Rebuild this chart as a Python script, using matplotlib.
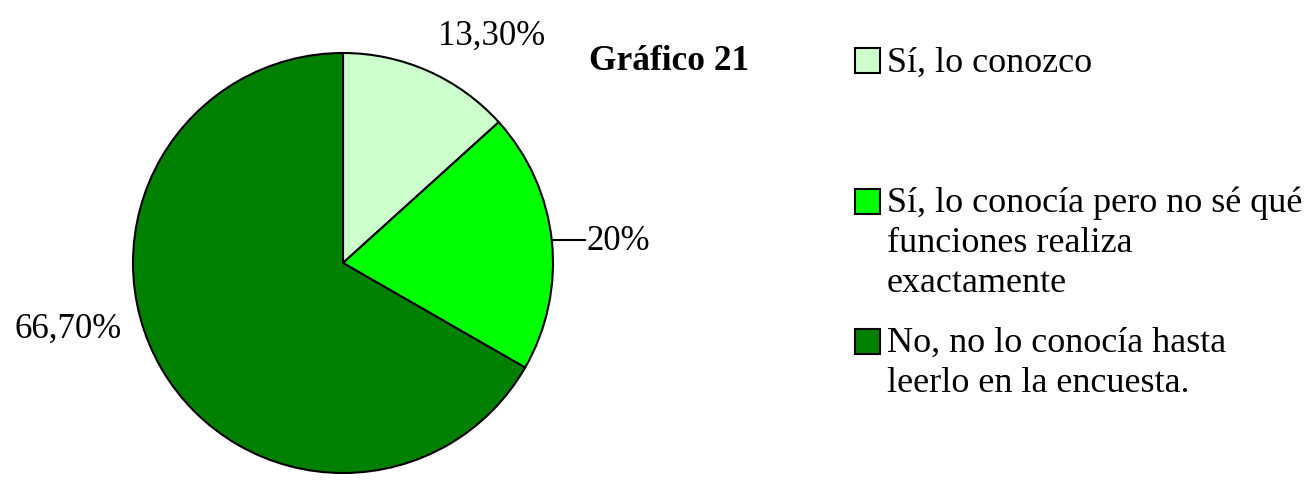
import matplotlib
matplotlib.use("Agg")
import matplotlib.pyplot as plt
from matplotlib.patches import Rectangle

W, H = 1314, 498
categories = ["Sí, lo conozco",
              "Sí, lo conocía pero no sé qué\nfunciones realiza\nexactamente",
              "No, no lo conocía hasta\nleerlo en la encuesta."]
values = [13.3, 20.0, 66.7]
value_labels = ["13,30%", "20%", "66,70%"]
colors = ["#CCFFCC", "#00FF00", "#008000"]
title = "Gráfico 21"

plt.rcParams['font.family'] = ['Liberation Serif', 'DejaVu Serif']

fig = plt.figure(figsize=(W / 100, H / 100), dpi=100)
ax = fig.add_axes([0, 0, 1, 1])

cx, cy, r = 343, H - 263, 210
ax.pie(values, colors=colors, startangle=90, counterclock=False,
       center=(cx, cy), radius=r, frame=True,
       wedgeprops=dict(edgecolor='black', linewidth=1.5))
ax.set_xlim(0, W)
ax.set_ylim(0, H)
ax.set_aspect('equal')
ax.axis('off')

# data labels
ax.text(438, H - 45, value_labels[0], fontsize=25, ha='left', va='baseline')
ax.plot([553, 585], [H - 240, H - 240], color='black', lw=1.5)
ax.text(587, H - 250, value_labels[1], fontsize=25, ha='left', va='baseline')
ax.text(15, H - 338, value_labels[2], fontsize=25, ha='left', va='baseline')

# title
ax.text(589, H - 70, title, fontsize=25.5, fontweight='bold', ha='left', va='baseline')

# legend
sq_tops = [48, 189, 329]
baselines = [72, 212, 352]
for c, lab, top, base in zip(colors, categories, sq_tops, baselines):
    ax.add_patch(Rectangle((855, H - top - 25), 25, 25, facecolor=c,
                           edgecolor='black', linewidth=1.5))
    for i, line in enumerate(lab.split("\n")):
        ax.text(887, H - base - 40 * i, line, fontsize=26, ha='left', va='baseline')

fig.savefig("out.png", dpi=100)
